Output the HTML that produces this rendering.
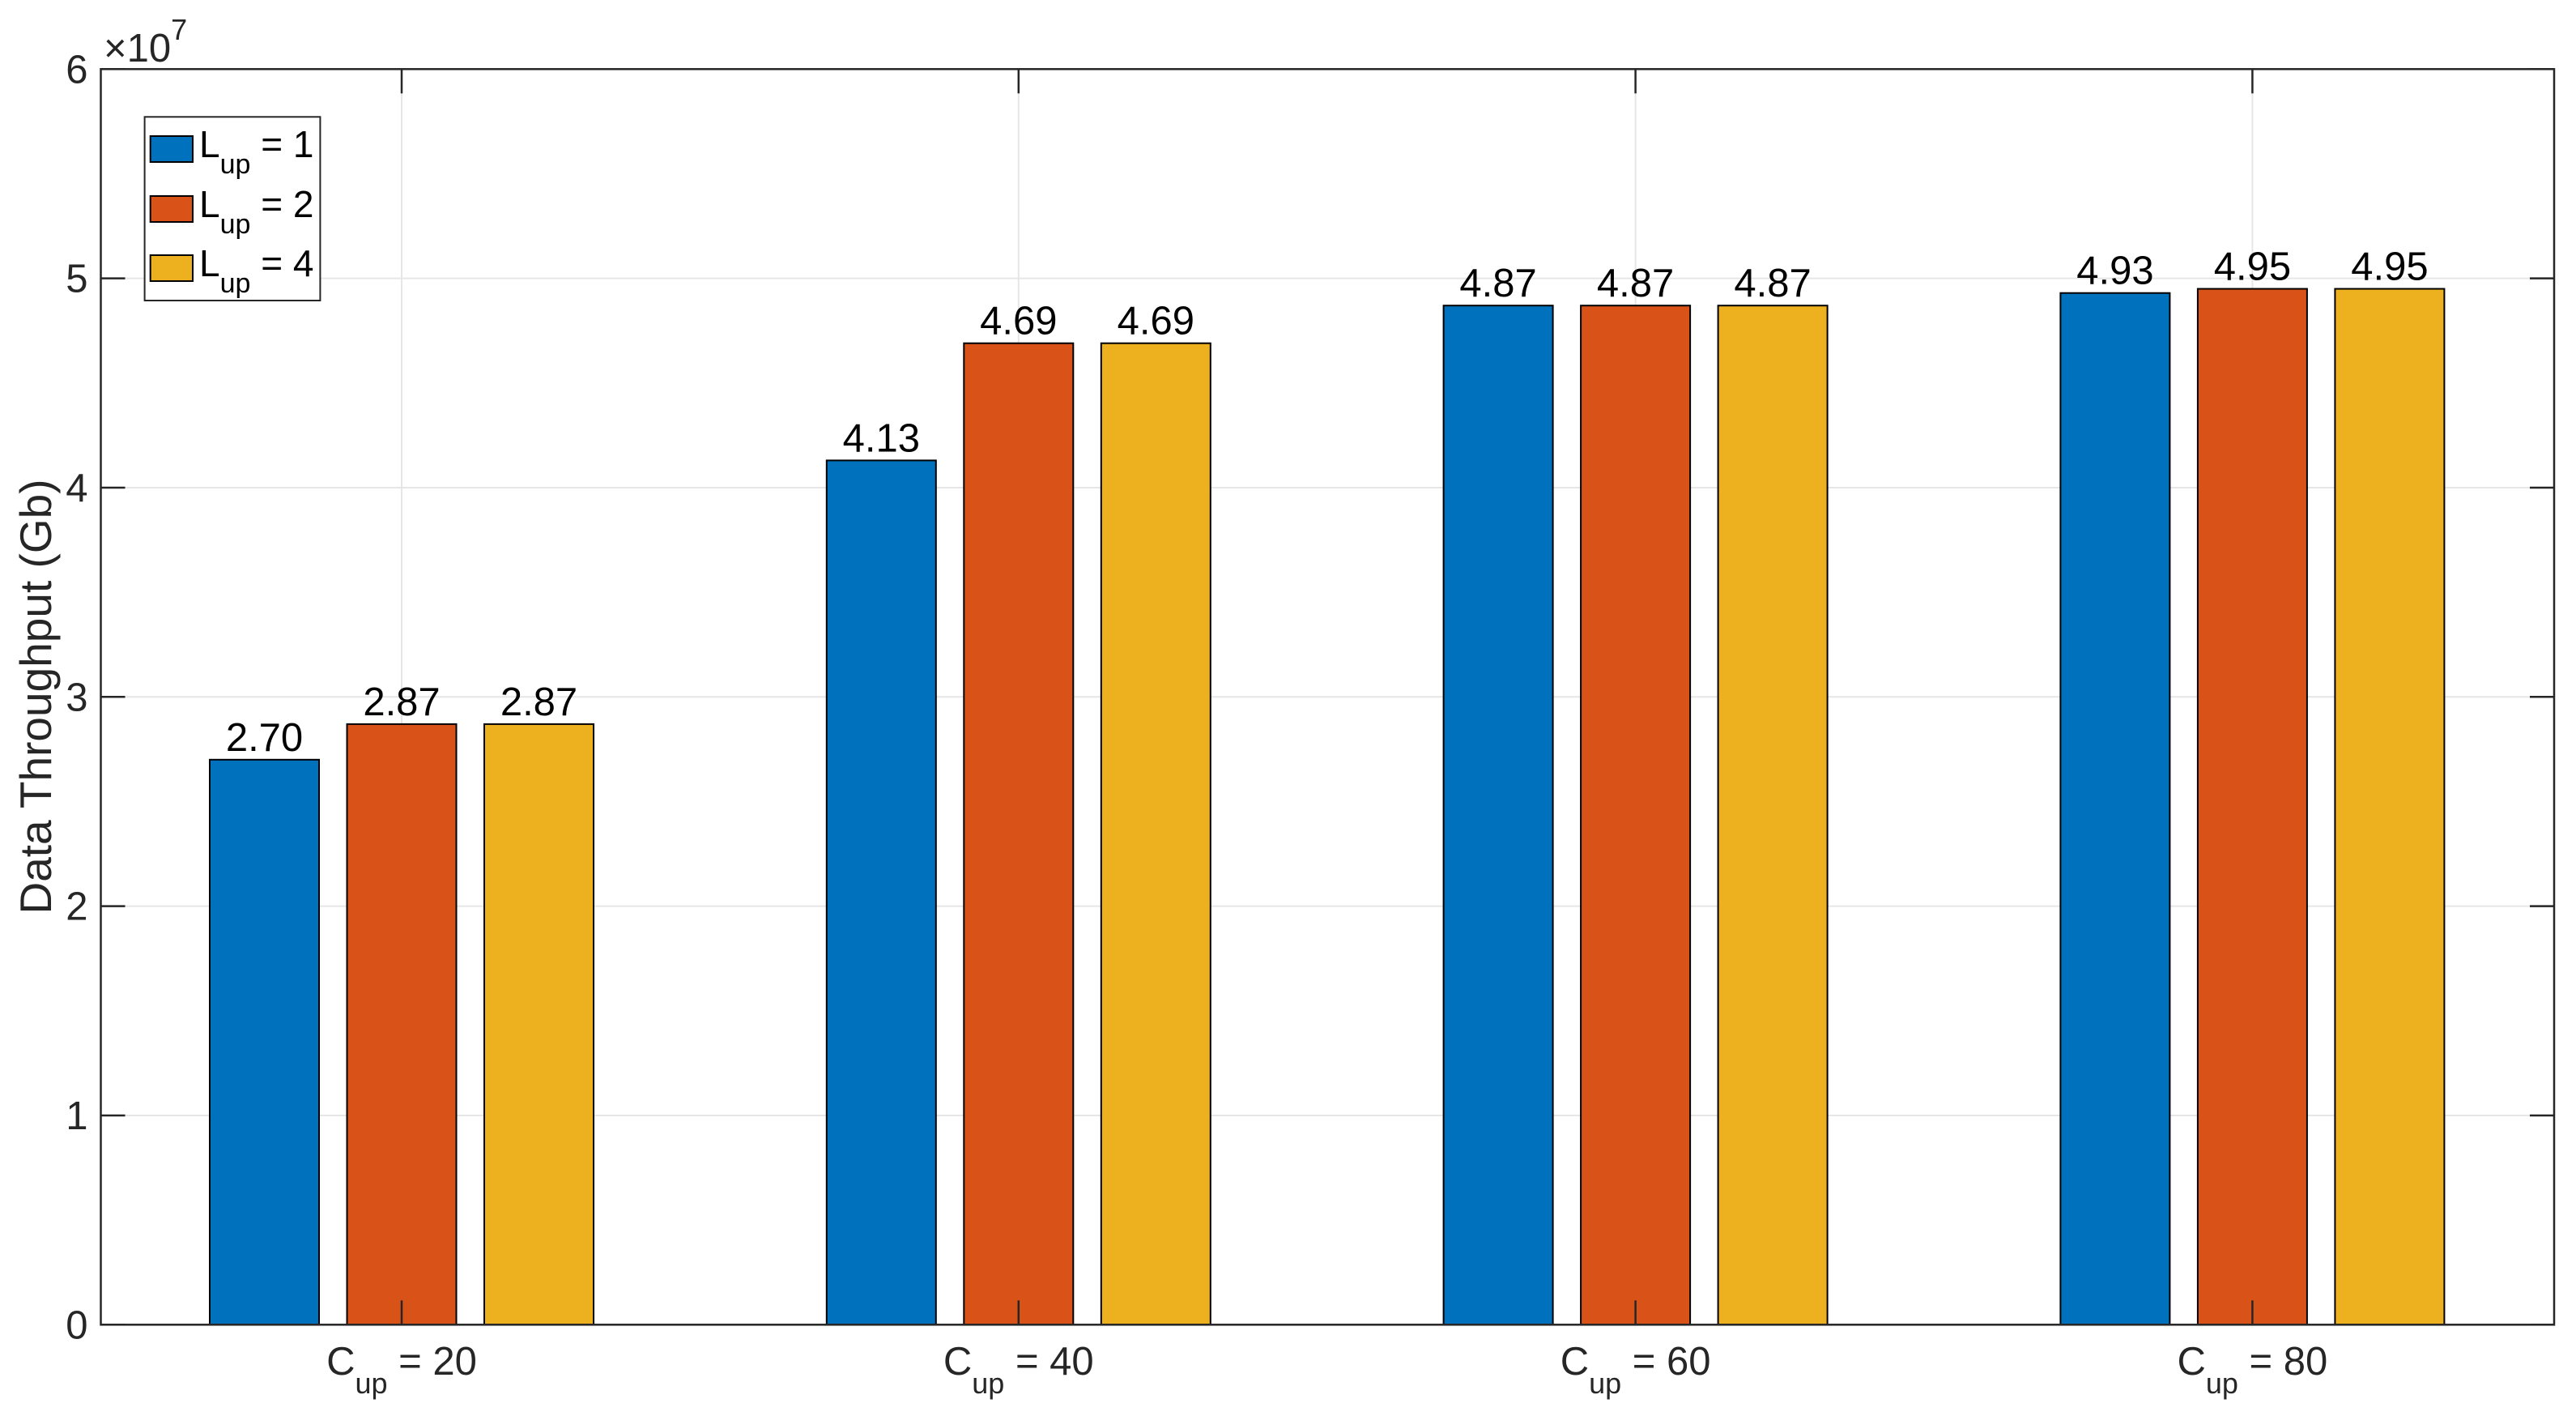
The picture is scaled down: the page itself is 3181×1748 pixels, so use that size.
<!DOCTYPE html>
<html><head><meta charset="utf-8"><style>
html,body{margin:0;padding:0;background:#fff;}
svg{display:block;font-family:"Liberation Sans",Arial,sans-serif;}
</style></head><body>
<svg id="chart" width="3181" height="1748" viewBox="0 0 3181 1748" xmlns="http://www.w3.org/2000/svg">
<g id="grid"></g>
<g id="bars"></g>
<g id="axes"></g>
<g id="legend"></g>
</svg>
<script>
const categories = ["20", "40", "60", "80"];
const seriesL1 = [2.70, 4.13, 4.87, 4.93];
const seriesL2 = [2.87, 4.69, 4.87, 4.95];
const seriesL4 = [2.87, 4.69, 4.87, 4.95];
const seriesNames = ["1", "2", "4"];
const yTicks = [0, 1, 2, 3, 4, 5, 6];

const NS = "http://www.w3.org/2000/svg";
const colors = ["#0072BD", "#D95319", "#EDB120"];
const series = [seriesL1, seriesL2, seriesL4];
const L = 124.5, R = 3154, T = 85.3, B = 1635.3;
const yMax = 6;
const catX0 = 496, catStep = 761.8;
const offsets = [-169.5, 0, 169.5], barW = 135;
const FS = 49, SUB = 36;
function xPos(i){ return catX0 + i * catStep; }
function yPos(v){ return B - (v / yMax) * (B - T); }
function mk(tag, attrs, parent){
  const e = document.createElementNS(NS, tag);
  for (const k in attrs) e.setAttribute(k, attrs[k]);
  parent.appendChild(e); return e;
}
const grid = document.getElementById("grid");
const barsG = document.getElementById("bars");
const axes = document.getElementById("axes");
const legend = document.getElementById("legend");

yTicks.forEach(t => {
  if (t === 0 || t === yMax) return;
  const y = yPos(t);
  const g = mk("line", {x1:L, x2:R, y1:y, y2:y, stroke:"#e6e6e6", "stroke-width":2}, grid);
  
  
});
categories.forEach((c, i) => {
  const x = xPos(i);
  const g = mk("line", {x1:x, x2:x, y1:T, y2:B, stroke:"#e6e6e6", "stroke-width":2}, grid);
  
  
});

series.forEach((vals, s) => {
  vals.forEach((v, i) => {
    const cx = xPos(i) + offsets[s];
    const y = yPos(v);
    const r = mk("rect", {x:cx - barW/2, y:y, width:barW, height:B - y, fill:colors[s], stroke:"#000", "stroke-width":2}, barsG);
    
    
    const t = mk("text", {x:cx, y:y - 11, "text-anchor":"middle", "font-size":FS, fill:"#000"}, barsG);
    t.textContent = v.toFixed(2);
    
    
  });
});

const box = mk("rect", {x:L, y:T, width:R - L, height:B - T, fill:"none", stroke:"#262626", "stroke-width":2.5}, axes);



yTicks.forEach(t => {
  const y = yPos(t);
  mk("line", {x1:L, x2:L + 30, y1:y, y2:y, stroke:"#262626", "stroke-width":2.5}, axes);
  mk("line", {x1:R - 30, x2:R, y1:y, y2:y, stroke:"#262626", "stroke-width":2.5}, axes);
  const lab = mk("text", {x:L - 16, y:y + 17, "text-anchor":"end", "font-size":FS, fill:"#262626"}, axes);
  lab.textContent = String(t);
  
  
});
categories.forEach((c, i) => {
  const x = xPos(i);
  mk("line", {x1:x, x2:x, y1:B, y2:B - 30, stroke:"#262626", "stroke-width":2.5}, axes);
  mk("line", {x1:x, x2:x, y1:T, y2:T + 30, stroke:"#262626", "stroke-width":2.5}, axes);
  const lab = mk("text", {x:x, y:1697, "text-anchor":"middle", "font-size":FS, fill:"#262626"}, axes);
  lab.innerHTML = 'C<tspan font-size="' + SUB + '" dy="23">up</tspan><tspan dy="-23"> = ' + c + '</tspan>';
  
  
});

const ex = mk("text", {x:128, y:76, "font-size":FS, fill:"#262626"}, axes);
ex.innerHTML = '×10<tspan font-size="' + SUB + '" dy="-27">7</tspan>';



const yt = mk("text", {x:0, y:0, "text-anchor":"middle", "font-size":55, fill:"#262626", transform:"translate(63,860) rotate(-90)"}, axes);
yt.textContent = "Data Throughput (Gb)";



const lb = mk("rect", {x:178.6, y:144.3, width:216.8, height:226.7, fill:"#fff", stroke:"#262626", "stroke-width":2}, legend);


const swY = [168, 242, 315];
seriesNames.forEach((n, s) => {
  const sw = mk("rect", {x:185.7, y:swY[s], width:52.3, height:32, fill:colors[s], stroke:"#000", "stroke-width":2}, legend);
  
  
  const t = mk("text", {x:246, y:swY[s] + 26, "font-size":46, fill:"#000"}, legend);
  t.innerHTML = 'L<tspan font-size="34" dy="20">up</tspan><tspan dy="-20"> = ' + n + '</tspan>';
  
  
});
</script>
</body></html>
